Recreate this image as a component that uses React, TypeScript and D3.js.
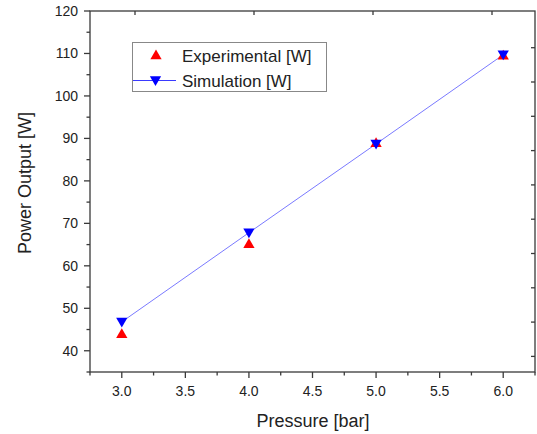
import React from "react";
import * as d3 from "d3";

const pressures = [3.0, 4.0, 5.0, 6.0];
const experimental = [44, 65.2, 89, 109.6];
const simulation = [46.8, 67.8, 88.7, 109.7];
const xTicks = [3.0, 3.5, 4.0, 4.5, 5.0, 5.5, 6.0];
const yTicks = [40, 50, 60, 70, 80, 90, 100, 110, 120];

const W = 537;
const H = 434;
const L = 90, R = 535, T = 11, B = 372;
const FONT = "'Liberation Sans', Arial, sans-serif";

export default function App() {
  const x = d3.scaleLinear().domain([2.75, 6.25]).range([L, R]);
  const y = d3.scaleLinear().domain([35, 120]).range([B, T]);
  const xMinor = d3.range(2.75, 6.26, 0.25).filter((v) => !xTicks.some((t) => Math.abs(t - v) < 1e-6));
  const yMinor = d3.range(35, 121, 5).filter((v) => !yTicks.includes(v));
  const line = d3.line<number>().x((_, i) => x(pressures[i])).y((d) => y(d));
  const tri = d3.symbol().type(d3.symbolTriangle).size(55);
  const triPath = tri() as string;
  const axisColor = "#3a3a3a";
  const rightTicks = d3.range(0, 10).map((i) => 47.7 + i * 34.3);
  const topTicks = [135, 254, 373, 492];

  return (
    <svg width={W} height={H} style={{ position: "absolute", left: 0, top: 0, background: "#fff" }} fontFamily={FONT}>
      <rect x={0} y={0} width={W} height={H} fill="#fff" />
      {/* simulation line */}
      <path d={line(simulation) || ""} fill="none" stroke="#7a7aff" strokeWidth={1} />
      {/* experimental markers */}
      {experimental.map((v, i) => (
        <path key={"e" + i} d={triPath} transform={`translate(${x(pressures[i])},${y(v) + 1})`} fill="#ff0000" />
      ))}
      {simulation.map((v, i) => (
        <path key={"s" + i} d={triPath} transform={`translate(${x(pressures[i])},${y(v) - 1}) rotate(180)`} fill="#0000ff" />
      ))}
      {/* frame */}
      <rect x={L} y={T} width={R - L} height={B - T} fill="none" stroke={axisColor} strokeWidth={1.3} />
      {/* x ticks */}
      {xTicks.map((t) => (
        <g key={"xt" + t}>
          <line x1={x(t)} x2={x(t)} y1={B} y2={B + 6} stroke={axisColor} strokeWidth={1.3} />
          <text x={x(t)} y={396} textAnchor="middle" fontSize={14} fill="#222">{t.toFixed(1)}</text>
        </g>
      ))}
      {xMinor.map((t) => (
        <line key={"xm" + t} x1={x(t)} x2={x(t)} y1={B} y2={B + 3.5} stroke={axisColor} strokeWidth={1.3} />
      ))}
      {/* y ticks */}
      {yTicks.map((t) => (
        <g key={"yt" + t}>
          <line x1={L - 6} x2={L} y1={y(t)} y2={y(t)} stroke={axisColor} strokeWidth={1.3} />
          <text x={78} y={y(t) + 5} textAnchor="end" fontSize={14} fill="#222">{t}</text>
        </g>
      ))}
      {yMinor.map((t) => (
        <line key={"ym" + t} x1={L - 3.5} x2={L} y1={y(t)} y2={y(t)} stroke={axisColor} strokeWidth={1.3} />
      ))}
      {/* right and top inward ticks */}
      {rightTicks.map((p, i) => (
        <line key={"rt" + i} x1={R - 4} x2={R} y1={p} y2={p} stroke={axisColor} strokeWidth={1.3} />
      ))}
      {topTicks.map((p, i) => (
        <line key={"tt" + i} x1={p} x2={p} y1={T} y2={T + 4} stroke={axisColor} strokeWidth={1.3} />
      ))}
      {/* axis titles */}
      <text x={313} y={427} textAnchor="middle" fontSize={18} fill="#222">Pressure [bar]</text>
      <text transform={`translate(31,183) rotate(-90)`} textAnchor="middle" fontSize={18} fill="#222">Power Output [W]</text>
      {/* legend */}
      <rect x={132.5} y={42.5} width={194} height={49} fill="#fff" stroke="#888" strokeWidth={1} />
      <path d={triPath} transform={`translate(156,56)`} fill="#ff0000" />
      <text x={182} y={62} fontSize={17} fill="#222">Experimental [W]</text>
      <line x1={133} x2={176} y1={80.5} y2={80.5} stroke="#3a3aff" strokeWidth={1} />
      <path d={triPath} transform={`translate(155.5,79.5) rotate(180)`} fill="#0000ff" />
      <text x={182} y={87} fontSize={17} fill="#222">Simulation [W]</text>
    </svg>
  );
}
